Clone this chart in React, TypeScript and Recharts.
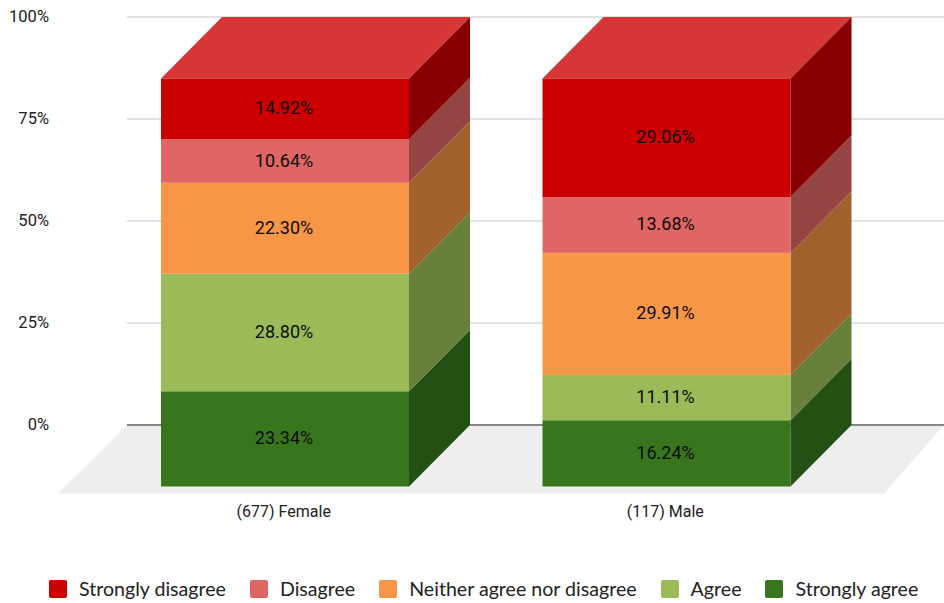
import { BarChart, Bar, XAxis, YAxis, CartesianGrid, ReferenceArea, LabelList, Legend } from 'recharts';

const categories = ['(677) Female', '(117) Male'];
const stronglyAgree = [23.34, 16.24];
const agree = [28.8, 11.11];
const neither = [22.3, 29.91];
const disagree = [10.64, 13.68];
const stronglyDisagree = [14.92, 29.06];
const yTicks = [0, 25, 50, 75, 100];

const data = categories.map((name, i) => ({
  name,
  stronglyAgree: stronglyAgree[i],
  agree: agree[i],
  neither: neither[i],
  disagree: disagree[i],
  stronglyDisagree: stronglyDisagree[i],
}));

// bottom of the stack first
const series = [
  { key: 'stronglyAgree', label: 'Strongly agree', front: '#38761d', side: '#255013' },
  { key: 'agree', label: 'Agree', front: '#9bbb59', side: '#67803c' },
  { key: 'neither', label: 'Neither agree nor disagree', front: '#f79646', side: '#a2622e' },
  { key: 'disagree', label: 'Disagree', front: '#e06666', side: '#954444' },
  { key: 'stronglyDisagree', label: 'Strongly disagree', front: '#cc0000', side: '#880000', top: '#d63636' },
];

// how far the front of the box sits from the back plane
const DX = 61;
const DY = 61.5;
// axis padding, the grid runs this far past the bands
const PAD_LEFT = 28;
const PAD_RIGHT = 26;

const Block = ({ x, y, width, height, fill, side, top }: any) => {
  const left = x - DX;
  const right = x + width - DX;
  const frontY = y + DY;
  return (
    <g>
      {top && (
        <polygon points={`${left},${frontY} ${x},${y} ${x + width},${y} ${right},${frontY}`} fill={top} />
      )}
      <polygon
        points={`${right},${frontY} ${x + width},${y} ${x + width},${y + height} ${right},${frontY + height}`}
        fill={side}
      />
      <rect x={left} y={frontY} width={width} height={height} fill={fill} />
    </g>
  );
};

// floor and the dark zero line, both have to stay behind the boxes
const Floor = ({ x, y, width, height }: any) => {
  const base = y + height;
  const x0 = x - PAD_LEFT;
  const x1 = x + width + PAD_RIGHT;
  return (
    <g>
      <polygon points={`${x0},${base} ${x1},${base} ${x1 - 60},${base + 68.5} ${x0 - 69},${base + 68.5}`} fill="#eeeeee" />
      <line x1={x0} x2={x1} y1={base} y2={base} stroke="#666666" strokeWidth={1.5} />
    </g>
  );
};

const ValueLabel = ({ x, y, width, height, value }: any) => (
  <text
    x={x + width / 2 - DX - 1}
    y={y + height / 2 + DY - 1}
    textAnchor="middle"
    dominantBaseline="central"
    fontFamily="Roboto"
    fontSize={18}
    fill="#0c0c0c"
  >
    {Number(value).toFixed(2)}%
  </text>
);

const YTick = ({ x, y, payload }: any) => (
  <text x={x - 70} y={y - 1} textAnchor="end" dominantBaseline="central" fontFamily="Roboto" fontSize={16.5} fill="#222222">
    {payload.value}%
  </text>
);

const XTick = ({ x, y, payload }: any) => (
  <text x={x - DX - 1} y={y + 78} textAnchor="middle" dominantBaseline="central" fontFamily="Roboto" fontSize={16} fill="#222222">
    {payload.value}
  </text>
);

const LegendRow = () => (
  <div style={{ display: 'flex', whiteSpace: 'nowrap', paddingLeft: 49, fontFamily: 'Lato', fontSize: 19.6, color: '#222222', lineHeight: '24px' }}>
    {[...series].reverse().map((s) => (
      <div key={s.key} style={{ display: 'flex', alignItems: 'center', marginRight: 24, flex: 'none' }}>
        <span style={{ width: 18, height: 18, background: s.front, borderRadius: 2, marginRight: 12 }} />
        {s.label}
      </div>
    ))}
  </div>
);

export default function App() {
  return (
    <div style={{ position: 'absolute', left: 0, top: 0, width: 944, height: 603 }}>
      <BarChart
        width={944}
        height={603}
        data={data}
        barSize={248}
        margin={{ top: 17, right: 0, bottom: 124, left: 67 }}
      >
        <ReferenceArea y1={0} y2={100} shape={<Floor />} fill="none" stroke="none" ifOverflow="visible" />
        <CartesianGrid vertical={false} stroke="#c4c4c4" />
        <XAxis
          dataKey="name"
          height={30}
          padding={{ left: PAD_LEFT, right: PAD_RIGHT }}
          tickLine={false}
          axisLine={false}
          tick={<XTick />}
        />
        <YAxis width={60} domain={[0, 100]} ticks={yTicks} axisLine={false} tickLine={false} tick={<YTick />} />
        {series.map((s) => (
          <Bar
            key={s.key}
            dataKey={s.key}
            name={s.label}
            stackId="a"
            fill={s.front}
            isAnimationActive={false}
            shape={(p: any) => <Block {...p} side={s.side} top={s.top} />}
          >
            <LabelList dataKey={s.key} content={<ValueLabel />} />
          </Bar>
        ))}
        <Legend content={<LegendRow />} wrapperStyle={{ top: 577, left: 0, width: 944, height: 24 }} />
      </BarChart>
    </div>
  );
}
